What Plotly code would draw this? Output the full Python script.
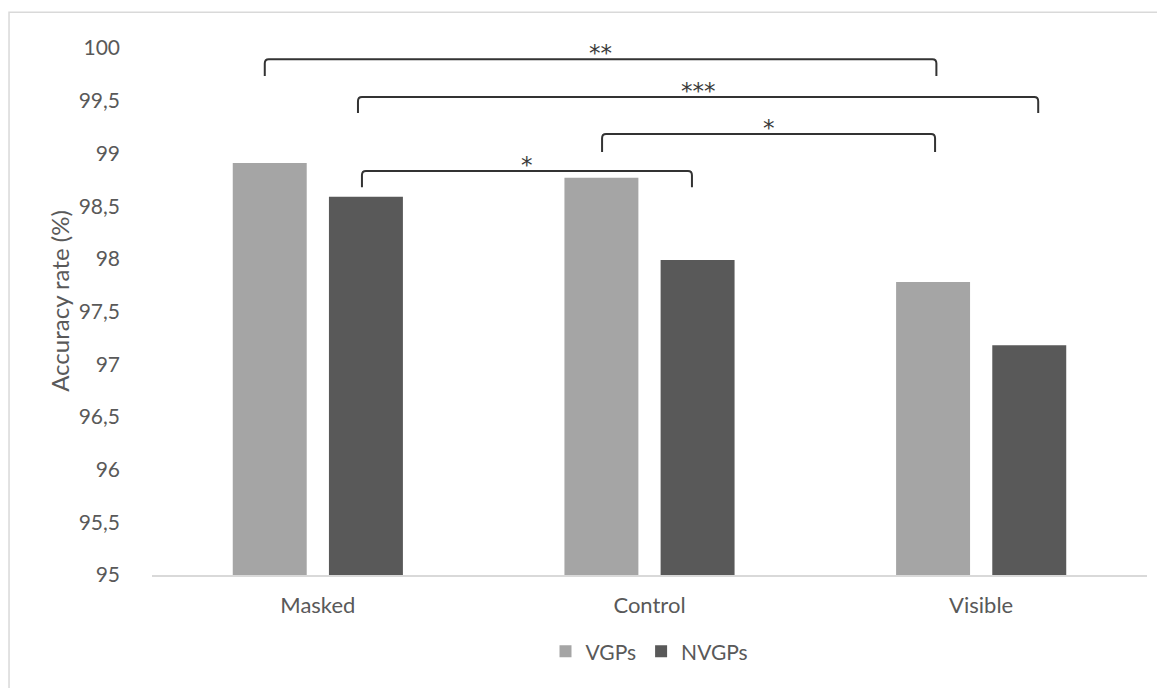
import plotly.graph_objects as go

categories = ["Masked", "Control", "Visible"]
vgps = [98.91, 98.77, 97.78]
nvgps = [98.59, 97.99, 97.18]
series_names = ["VGPs", "NVGPs"]

# significance brackets: (left x, right x, bar y, drop y, label)
brackets = [
    (-0.16, 1.865, 99.895, 99.735, "**"),
    (0.121, 2.172, 99.535, 99.383, "***"),
    (0.857, 1.861, 99.184, 99.013, "*"),
    (0.133, 1.128, 98.833, 98.680, "*"),
]

x = list(range(len(categories)))
font_family = "Lato, 'Open Sans', sans-serif"
grey_text = "#595959"

fig = go.Figure()
fig.add_trace(go.Bar(x=x, y=vgps, name=series_names[0], marker_color="#A5A5A5",
                     marker_line_width=0, width=0.223, offset=-0.2565))
fig.add_trace(go.Bar(x=x, y=nvgps, name=series_names[1], marker_color="#595959",
                     marker_line_width=0, width=0.223, offset=0.0335))

rx, ry = 0.012, 0.04
for x0, x1, yb, yd, lab in brackets:
    path = (f"M {x0},{yd} L {x0},{yb-ry} Q {x0},{yb} {x0+rx},{yb} "
            f"L {x1-rx},{yb} Q {x1},{yb} {x1},{yb-ry} L {x1},{yd}")
    fig.add_shape(type="path", path=path, xref="x", yref="y",
                  line=dict(color="#333333", width=2))
    fig.add_annotation(x=(x0 + x1) / 2, y=yb, text=lab, showarrow=False,
                       xref="x", yref="y", yanchor="bottom", yshift=-9,
                       font=dict(family="DejaVu Sans", size=23, color="#3A3A3A"))

# outer chart border
fig.add_shape(type="rect", xref="paper", yref="paper",
              x0=-0.1437, x1=1.05, y0=-0.3, y1=1.027,
              line=dict(color="#D9D9D9", width=1.5), layer="below")

fig.update_layout(
    width=1157, height=680,
    margin=dict(l=144, r=18, t=19, b=113),
    plot_bgcolor="white", paper_bgcolor="white",
    barmode="overlay",
    separators=", ",
    font=dict(family=font_family, size=22, color=grey_text),
    showlegend=True,
    legend=dict(orientation="h", x=0.5, xanchor="center", y=-0.14, yanchor="middle",
                font=dict(size=21, color=grey_text), traceorder="normal"),
    xaxis=dict(range=[-0.5, 2.5], tickvals=x, ticktext=categories, showgrid=False,
               showline=True, linecolor="#D9D9D9", linewidth=1.5, ticks="",
               ticklabelstandoff=10, zeroline=False,
               tickfont=dict(size=22, color=grey_text)),
    yaxis=dict(range=[95, 100.2], dtick=0.5, tick0=95, showgrid=False, showline=False,
               zeroline=False, ticks="", ticklabelstandoff=31,
               tickfont=dict(size=21, color=grey_text),
               title=dict(text="Accuracy rate (%)", standoff=2,
                          font=dict(size=24, color=grey_text))),
)

fig.write_html("out.html")
